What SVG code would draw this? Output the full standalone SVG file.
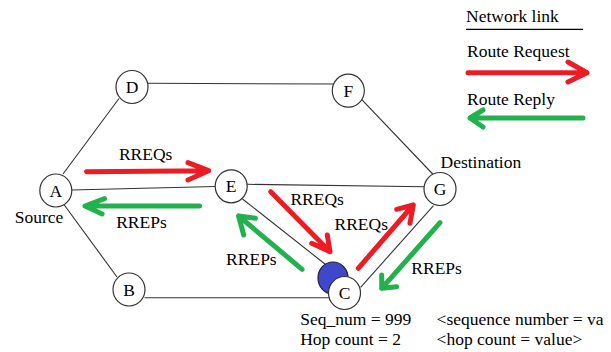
<svg xmlns="http://www.w3.org/2000/svg" width="611" height="352" viewBox="0 0 611 352">
<style>
text{font-family:"Liberation Serif","Times New Roman",serif;font-size:17.5px;fill:#000}
.node ellipse{fill:#fff;stroke:#333;stroke-width:1.2}
.node text{text-anchor:middle}
.link{stroke:#333;stroke-width:1.1;fill:none}
.req{stroke:#ED1C24;stroke-width:5;fill:none;stroke-linecap:round;stroke-linejoin:round}
.rep{stroke:#22B14C;stroke-width:5;fill:none;stroke-linecap:round;stroke-linejoin:round}
</style>
<rect width="611" height="352" fill="#fff"/>
<g id="connectors">
<line class="link" x1="147.7" y1="83.3" x2="333" y2="84"/>
<line class="link" x1="63" y1="174" x2="119" y2="98.5"/>
<line class="link" x1="360.6" y1="98.3" x2="432.7" y2="174"/>
<line class="link" x1="64.3" y1="205" x2="117" y2="277"/>
<line class="link" x1="144.5" y1="297.7" x2="330" y2="297.7"/>
<line class="link" x1="71.5" y1="190" x2="215.5" y2="186.5"/>
<line class="link" x1="247" y1="184.3" x2="424.5" y2="186.8"/>
<line class="link" x1="242.5" y1="199" x2="327.5" y2="266"/>
<line class="link" x1="360.6" y1="287.3" x2="433.5" y2="205.7"/>
</g>
<g id="legend">
<text x="466" y="22">Network link</text>
<line x1="466" y1="29.3" x2="583" y2="29.3" stroke="#000" stroke-width="1.2"/>
<text x="467" y="57">Route Request</text>
<path class="req" d="M468 72.7H587M568 62L587 72.7L568 82"/>
<text x="467" y="105">Route Reply</text>
<path class="rep" d="M583 118H470M483 110L470 118L483 127"/>
</g>
<g id="arrows">
<path class="req" d="M86.5 171.7L208.6 170.7M188 162.7L208.6 170.7L188 180"/>
<path class="rep" d="M199.6 206H85M104.5 198.7L85 206L102.1 214"/>
<path class="req" d="M270.7 191.7L330 251.7M327.3 235L330 251.7L311.7 243.3"/>
<path class="req" d="M358.3 268.3L413.3 205M396.7 209.3L413.3 205L410 223.3"/>
<path class="rep" d="M302.1 269.3L238.6 216M255.4 218.3L238.6 216L243.7 235"/>
<path class="rep" d="M440 222.7L381.7 288.3M381.7 275L381.7 288.3L396.7 286.7"/>
</g>
<g id="node-D" class="node"><ellipse cx="132" cy="87" rx="16" ry="16.5"/><text x="132" y="93">D</text></g>
<g id="node-F" class="node"><ellipse cx="348.3" cy="90.7" rx="16" ry="16.5"/><text x="348.3" y="96.7">F</text></g>
<g id="node-A" class="node"><ellipse cx="55.8" cy="190.5" rx="16" ry="16.5"/><text x="55.8" y="196.5">A</text></g>
<g id="node-E" class="node"><ellipse cx="231.2" cy="186.3" rx="16" ry="16.5"/><text x="231.2" y="192.3">E</text></g>
<g id="node-G" class="node"><ellipse cx="440" cy="189" rx="16" ry="16.5"/><text x="440" y="195">G</text></g>
<g id="node-B" class="node"><ellipse cx="129" cy="289.5" rx="16" ry="16.5"/><text x="129" y="295.5">B</text></g>
<g id="node-C" class="node"><ellipse cx="333" cy="278" rx="15" ry="16" style="fill:#3F48CC;stroke:#222"/><ellipse cx="344.5" cy="293" rx="16" ry="16.5"/><text x="344.5" y="299">C</text></g>
<g id="labels">
<text x="118.9" y="160">RREQs</text>
<text x="116.2" y="227.5">RREPs</text>
<text x="290.4" y="205">RREQs</text>
<text x="334.5" y="230">RREQs</text>
<text x="226.1" y="265">RREPs</text>
<text x="411.3" y="274">RREPs</text>
<text x="440.5" y="168">Destination</text>
<text x="14.8" y="223">Source</text>
<text x="300.2" y="325">Seq_num = 999</text>
<text x="300.2" y="345">Hop count = 2</text>
<text x="436.6" y="325">&lt;sequence number = va</text>
<text x="436.6" y="345">&lt;hop count = value&gt;</text>
</g>
</svg>
